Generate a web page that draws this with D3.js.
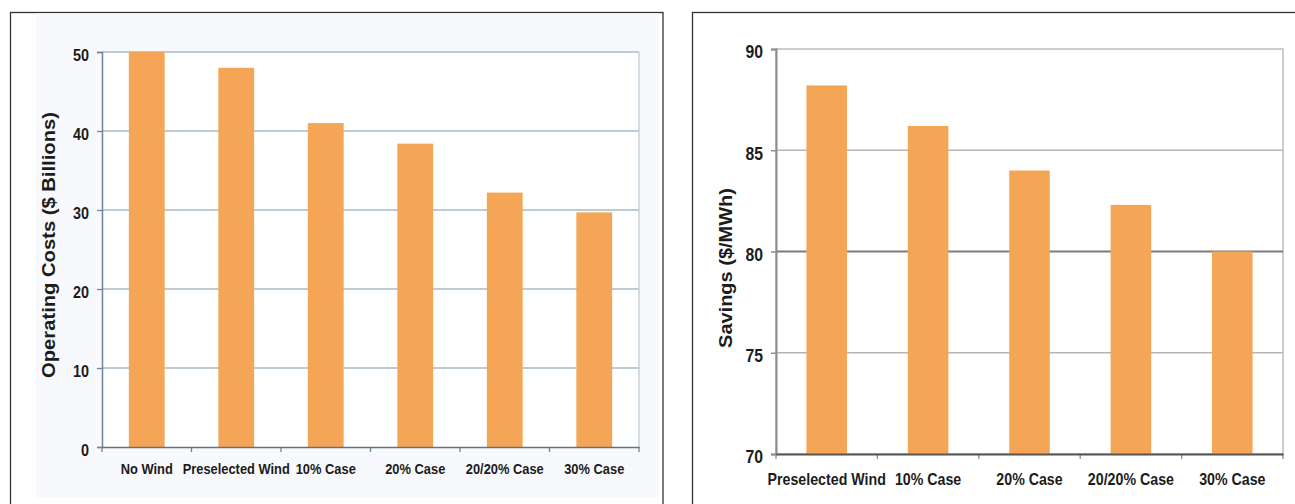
<!DOCTYPE html>
<html>
<head>
<meta charset="utf-8">
<script src="https://cdn.jsdelivr.net/npm/d3@7"></script>
<style>
html,body{margin:0;padding:0;background:#fff;}
svg{display:block;font-family:"Liberation Sans",Arial,sans-serif;}
</style>
</head>
<body>
<svg id="c" width="1295" height="504"></svg>
<script>
// ---- data ----
const costCategories = ["No Wind", "Preselected Wind", "10% Case", "20% Case", "20/20% Case", "30% Case"];
const costValues = [50, 48, 41, 38.4, 32.2, 29.7];
const costTicks = [0, 10, 20, 30, 40, 50];
const costTitle = "Operating Costs ($ Billions)";

const savingsCategories = ["Preselected Wind", "10% Case", "20% Case", "20/20% Case", "30% Case"];
const savingsValues = [88.2, 86.2, 84.0, 82.3, 80.0];
const savingsTicks = [70, 75, 80, 85, 90];
const savingsTitle = "Savings ($/MWh)";

const svg = d3.select("#c");
const barColor = "#f5a556";

// ---------- LEFT PANEL ----------
svg.append("rect").attr("x", 10.5).attr("y", 12.5).attr("width", 652.5).attr("height", 500)
  .attr("fill", "#fff").attr("stroke", "#333").attr("stroke-width", 1.3);
svg.append("rect").attr("x", 36).attr("y", 13.5).attr("width", 622).attr("height", 484)
  .attr("fill", "#f8f9fc");

const L = {left: 102, right: 639, top: 52, bottom: 447};
const gL = svg.append("g");
gL.append("rect").attr("x", L.left).attr("y", L.top).attr("width", L.right - L.left).attr("height", L.bottom - L.top)
  .attr("fill", "#fff");

const xL = d3.scaleBand().domain(costCategories).range([L.left, L.right]).paddingInner(0.6).paddingOuter(0.3);
const yL = d3.scaleLinear().domain([0, 50]).range([L.bottom, L.top]);

// grid
gL.selectAll(".grid").data(costTicks.filter(d => d > 0)).join("line")
  .attr("x1", L.left).attr("x2", L.right).attr("y1", d => yL(d)).attr("y2", d => yL(d))
  .attr("stroke", "#a9bac7").attr("stroke-width", 1.3);
gL.append("line").attr("x1", L.right).attr("x2", L.right).attr("y1", L.top).attr("y2", L.bottom)
  .attr("stroke", "#b9c8d4").attr("stroke-width", 1.2);

// bars
gL.selectAll(".bar").data(costValues).join("rect")
  .attr("x", (d, i) => xL(costCategories[i])).attr("width", xL.bandwidth())
  .attr("y", d => yL(d)).attr("height", d => yL(0) - yL(d)).attr("fill", barColor);

// y axis
const yAxL = gL.append("g").attr("transform", `translate(${L.left},0)`)
  .call(d3.axisLeft(yL).tickValues(costTicks).tickSize(5).tickPadding(0));
yAxL.select(".domain").attr("stroke", "#6f8595").attr("stroke-width", 1.5);
yAxL.selectAll(".tick line").attr("stroke", "#6f8595").attr("stroke-width", 1.3);
yAxL.selectAll("text").attr("x", null).attr("dy", "0.5em")
  .attr("transform", "translate(-13,0) scale(0.9,1)")
  .attr("font-size", 16).attr("font-weight", "bold").attr("fill", "#1c1c1c");

// x axis
const stepL = xL.step();
const boundsL = d3.range(costCategories.length + 1).map(i => L.left + i * stepL);
gL.selectAll(".xtick").data(boundsL).join("line")
  .attr("x1", d => d).attr("x2", d => d).attr("y1", L.bottom).attr("y2", L.bottom + 5)
  .attr("stroke", "#6f8595").attr("stroke-width", 1.3);
const xAxL = gL.append("g").attr("transform", `translate(0,${L.bottom})`)
  .call(d3.axisBottom(xL).tickSize(0).tickPadding(0));
xAxL.select(".domain").attr("stroke", "#5e7384").attr("stroke-width", 1.6);
xAxL.selectAll("text").attr("y", null).attr("dy", null)
  .attr("transform", "translate(0,26.5) scale(0.87,1)")
  .attr("font-size", 14.8).attr("font-weight", "bold").attr("fill", "#1c1c1c");

gL.append("text").attr("transform", "translate(55,245) scale(0.88,1) rotate(-90)")
  .attr("text-anchor", "middle").attr("font-size", 20.2).attr("font-weight", "bold").attr("fill", "#1c1c1c")
  .text(costTitle);

// ---------- RIGHT PANEL ----------
svg.append("rect").attr("x", 692.5).attr("y", 12.5).attr("width", 700).attr("height", 500)
  .attr("fill", "#fff").attr("stroke", "#333").attr("stroke-width", 1.3);

const R = {left: 776, right: 1283, top: 49, bottom: 454};
const gR = svg.append("g");
const xR = d3.scaleBand().domain(savingsCategories).range([R.left, R.right]).paddingInner(0.6).paddingOuter(0.3);
const yR = d3.scaleLinear().domain([70, 90]).range([R.bottom, R.top]);

gR.append("rect").attr("x", R.left).attr("y", R.top).attr("width", R.right - R.left).attr("height", R.bottom - R.top)
  .attr("fill", "#fff").attr("stroke", "#b3b3b3").attr("stroke-width", 1.3);
gR.selectAll(".grid").data(savingsTicks.filter(d => d > 70 && d < 90)).join("line")
  .attr("x1", R.left).attr("x2", R.right).attr("y1", d => yR(d)).attr("y2", d => yR(d))
  .attr("stroke", d => d === 80 ? "#7c7c7c" : "#b5b5b5").attr("stroke-width", d => d === 80 ? 2 : 1.3);

gR.selectAll(".bar").data(savingsValues).join("rect")
  .attr("x", (d, i) => xR(savingsCategories[i])).attr("width", xR.bandwidth())
  .attr("y", d => yR(d)).attr("height", d => yR(70) - yR(d)).attr("fill", barColor);

const yAxR = gR.append("g").attr("transform", `translate(${R.left},0)`)
  .call(d3.axisLeft(yR).tickValues(savingsTicks).tickSize(5).tickPadding(0));
yAxR.select(".domain").attr("stroke", "#8c8c8c").attr("stroke-width", 2);
yAxR.selectAll(".tick line").attr("stroke", "#8c8c8c").attr("stroke-width", 1.5);
yAxR.selectAll("text").attr("x", null).attr("dy", "0.5em")
  .attr("transform", "translate(-13,0) scale(0.9,1)")
  .attr("font-size", 17.5).attr("font-weight", "bold").attr("fill", "#1c1c1c");

const stepR = xR.step();
const boundsR = d3.range(savingsCategories.length + 1).map(i => R.left + i * stepR);
gR.selectAll(".xtick").data(boundsR).join("line")
  .attr("x1", d => d).attr("x2", d => d).attr("y1", R.bottom).attr("y2", R.bottom + 5)
  .attr("stroke", "#8c8c8c").attr("stroke-width", 1.3);
const xAxR = gR.append("g").attr("transform", `translate(0,${R.bottom})`)
  .call(d3.axisBottom(xR).tickSize(0).tickPadding(0));
xAxR.select(".domain").attr("stroke", "#555").attr("stroke-width", 2);
xAxR.selectAll("text").attr("y", null).attr("dy", null)
  .attr("transform", "translate(0,31) scale(0.9,1)")
  .attr("font-size", 15.8).attr("font-weight", "bold").attr("fill", "#1c1c1c");

gR.append("text").attr("transform", "translate(732,268) scale(0.9,1) rotate(-90)")
  .attr("text-anchor", "middle").attr("font-size", 20).attr("font-weight", "bold").attr("fill", "#1c1c1c")
  .text(savingsTitle);
</script>
</body>
</html>
